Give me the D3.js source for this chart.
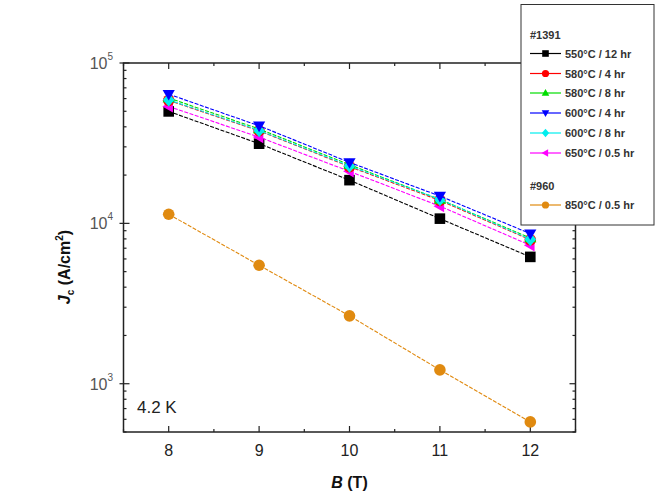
<!DOCTYPE html>
<html><head><meta charset="utf-8">
<script src="https://cdn.jsdelivr.net/npm/d3@7"></script>
<style>body{margin:0;background:#fff}svg{display:block}</style>
</head><body>
<svg id="c" width="672" height="496"></svg>
<script>
const fields = [8, 9, 10, 11, 12];
const seriesNames = ["550°C / 12 hr","580°C / 4 hr","580°C / 8 hr","600°C / 4 hr","600°C / 8 hr","650°C / 0.5 hr","850°C / 0.5 hr"];
const seriesColors = ["#000000","#ff0000","#00dd00","#0000ff","#00eeee","#ff00ff","#e08a10"];
const seriesSymbols = ["square","circle","triangle","triangleDown","diamond","triangleLeft","circle"];
const jc550_12 = [49900, 31400, 18600, 10700, 6180];
const jc580_4  = [58500, 37800, 22600, 13900, 7900];
const jc580_8  = [60500, 38800, 23200, 14100, 8100];
const jc600_4  = [63900, 40600, 24000, 14800, 8630];
const jc600_8  = [58900, 38000, 22800, 14100, 7960];
const jc650_05 = [53600, 34500, 21100, 12800, 7300];
const jc850_05 = [11400, 5480, 2650, 1220, 578];
const seriesValues = [jc550_12, jc580_4, jc580_8, jc600_4, jc600_8, jc650_05, jc850_05];
const xTicks = [8, 9, 10, 11, 12];
const yTicks = [1e3, 1e4, 1e5];
const yTickExp = ["3","4","5"];

const svg = d3.select("#c");
const L = 123.5, R = 575.5, T = 63, B = 432;
const x = d3.scaleLinear().domain([7.5, 12.5]).range([L, R]);
const y = d3.scaleLog().domain([500, 1e5]).range([B, T]);

svg.append("rect").attr("x", L).attr("y", T).attr("width", R - L).attr("height", B - T)
  .attr("fill", "none").attr("stroke", "#222").attr("stroke-width", 1.5);

const xMinor = d3.range(7.5, 12.51, 0.5).filter(v => !xTicks.includes(v));
const tg = svg.append("g").attr("stroke", "#222").attr("stroke-width", 1.2);
xTicks.forEach(v => {
  tg.append("line").attr("x1", x(v)).attr("x2", x(v)).attr("y1", B).attr("y2", B - 6);
  tg.append("line").attr("x1", x(v)).attr("x2", x(v)).attr("y1", T).attr("y2", T + 6);
});
xMinor.forEach(v => {
  tg.append("line").attr("x1", x(v)).attr("x2", x(v)).attr("y1", B).attr("y2", B - 3);
  tg.append("line").attr("x1", x(v)).attr("x2", x(v)).attr("y1", T).attr("y2", T + 3);
});
const yMinor = [];
[100, 1000, 10000].forEach(d => { for (let k = 2; k <= 9; k++) { const v = d * k; if (v >= 500 && v <= 1e5) yMinor.push(v); } });
yTicks.forEach(v => {
  tg.append("line").attr("x1", L - 4).attr("x2", L + 6).attr("y1", y(v)).attr("y2", y(v));
  tg.append("line").attr("x1", R).attr("x2", R - 6).attr("y1", y(v)).attr("y2", y(v));
});
yMinor.forEach(v => {
  tg.append("line").attr("x1", L).attr("x2", L + 3).attr("y1", y(v)).attr("y2", y(v));
  tg.append("line").attr("x1", R).attr("x2", R - 3).attr("y1", y(v)).attr("y2", y(v));
});

svg.append("g").selectAll("text").data(xTicks).join("text")
  .attr("x", d => x(d)).attr("y", 456).attr("text-anchor", "middle")
  .attr("font-family", "Liberation Sans, Arial, sans-serif").attr("font-size", 16).attr("fill", "#222")
  .text(d => d);
yTicks.forEach((v, i) => {
  const t = svg.append("text").attr("x", 113).attr("y", y(v) + 6).attr("text-anchor", "end")
    .attr("font-family", "Liberation Sans, Arial, sans-serif").attr("font-size", 16).attr("fill", "#555");
  t.append("tspan").text("10");
  t.append("tspan").attr("font-size", 10).attr("dy", -9).text(yTickExp[i]);
});

const xt = svg.append("text").attr("x", x(10)).attr("y", 488).attr("text-anchor", "middle")
  .attr("font-family", "Liberation Sans, Arial, sans-serif").attr("font-size", 16).attr("font-weight", "bold").attr("fill", "#111");
xt.append("tspan").attr("font-style", "italic").text("B");
xt.append("tspan").text(" (T)");

const yt = svg.append("text").attr("transform", "translate(70,267) rotate(-90)").attr("text-anchor", "middle")
  .attr("font-family", "Liberation Sans, Arial, sans-serif").attr("font-size", 16).attr("font-weight", "bold").attr("fill", "#111");
yt.append("tspan").attr("font-style", "italic").text("J");
yt.append("tspan").attr("font-size", 10).attr("dy", 4).text("c");
yt.append("tspan").attr("dy", -4).text(" (A/cm");
yt.append("tspan").attr("font-size", 10).attr("dy", -7).text("2");
yt.append("tspan").attr("dy", 7).text(")");

svg.append("text").attr("x", 137).attr("y", 413).attr("font-family", "Liberation Sans, Arial, sans-serif")
  .attr("font-size", 17).attr("fill", "#222").text("4.2 K");

function symPath(kind, s) {
  switch (kind) {
    case "square": return `M${-s},${-s}h${2*s}v${2*s}h${-2*s}Z`;
    case "circle": return d3.symbol(d3.symbolCircle, Math.PI * s * s * 1.2)();
    case "triangle": return `M0,${-s*1.2}L${s*1.15},${s*0.8}L${-s*1.15},${s*0.8}Z`;
    case "triangleDown": return `M0,${s*1.2}L${s*1.15},${-s*0.8}L${-s*1.15},${-s*0.8}Z`;
    case "triangleLeft": return `M${-s*1.2},0L${s*0.8},${-s*1.15}L${s*0.8},${s*1.15}Z`;
    case "diamond": return `M0,${-s*1.3}L${s*1.1},0L0,${s*1.3}L${-s*1.1},0Z`;
  }
}

const line = d3.line().x((d, i) => x(fields[i])).y(d => y(d));
const drawOrder = [0, 5, 1, 2, 4, 3, 6];
drawOrder.forEach(k => {
  const g = svg.append("g");
  g.append("path").attr("d", line(seriesValues[k])).attr("fill", "none")
    .attr("stroke", seriesColors[k]).attr("stroke-width", 1.1).attr("stroke-dasharray", "4,1.5");
  g.selectAll("path.m").data(seriesValues[k]).join("path").attr("class", "m")
    .attr("transform", (d, i) => `translate(${x(fields[i])},${y(d)})`)
    .attr("d", symPath(seriesSymbols[k], 5.3)).attr("fill", seriesColors[k]);
});

const lg = svg.append("g");
lg.append("rect").attr("x", 521).attr("y", 4.5).attr("width", 133).attr("height", 220.5)
  .attr("fill", "#fff").attr("stroke", "#333").attr("stroke-width", 1);
const lf = "Liberation Sans Narrow, Arial Narrow, Liberation Sans, sans-serif";
lg.append("text").attr("x", 530).attr("y", 39).attr("font-family", lf).attr("font-size", 11).attr("font-weight", "bold").attr("fill", "#333").text("#1391");
lg.append("text").attr("x", 530).attr("y", 190).attr("font-family", lf).attr("font-size", 11).attr("font-weight", "bold").attr("fill", "#333").text("#960");
const rowY = [53.5, 73.5, 93, 113, 133, 153, 205];
seriesNames.forEach((n, k) => {
  const yy = rowY[k];
  lg.append("line").attr("x1", 530).attr("x2", 561).attr("y1", yy).attr("y2", yy).attr("stroke", seriesColors[k]).attr("stroke-width", 1.2);
  lg.append("path").attr("transform", `translate(545.5,${yy})`).attr("d", symPath(seriesSymbols[k], 3.3)).attr("fill", seriesColors[k]);
  lg.append("text").attr("x", 565).attr("y", yy + 4).attr("font-family", lf).attr("font-size", 11).attr("font-weight", "bold").attr("fill", "#333").text(n);
});
</script>
</body></html>
